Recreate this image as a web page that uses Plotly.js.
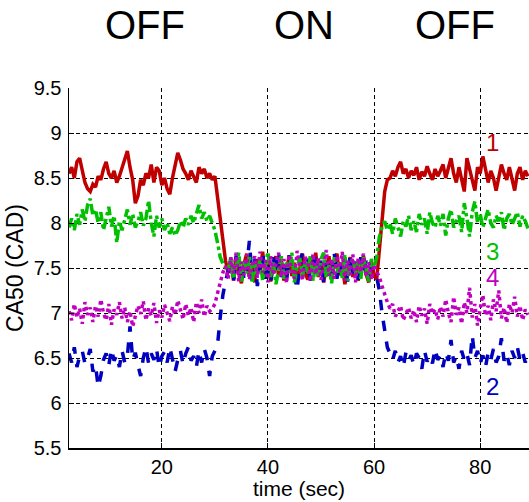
<!DOCTYPE html>
<html>
<head>
<meta charset="utf-8">
<script src="https://cdn.plot.ly/plotly-3.0.1.min.js"></script>
<style>html,body{margin:0;padding:0;background:#fff;}#chart{width:529px;height:502px;}</style>
</head>
<body>
<div id="chart"></div>
<script>
// sample times: start 2.5 s, step 0.5 s
const timeStart = 2.5;
const timeStep = 0.5;

// series 1 (red, solid) - rows of 5 s
const series1 = [
  8.55,8.62,8.50,8.68,8.72,8.58,8.45,8.38,8.35,8.43,
  8.40,8.52,8.48,8.60,8.68,8.55,8.50,8.58,8.45,8.52,
  8.62,8.70,8.80,8.62,8.48,8.22,8.30,8.48,8.42,8.55,
  8.50,8.65,8.45,8.62,8.58,8.42,8.50,8.38,8.32,8.50,
  8.62,8.78,8.70,8.60,8.55,8.48,8.58,8.52,8.45,8.62,
  8.55,8.60,8.50,8.55,8.48,8.52,8.30,8.05,7.80,7.58,
  7.45,7.58,7.36,7.62,7.44,7.33,7.55,7.66,7.40,7.52,
  7.34,7.60,7.46,7.68,7.39,7.55,7.35,7.52,7.63,7.42,
  7.58,7.36,7.47,7.64,7.41,7.56,7.33,7.52,7.66,7.45,
  7.37,7.61,7.48,7.67,7.40,7.56,7.34,7.51,7.63,7.38,
  7.57,7.66,7.42,7.53,7.32,7.47,7.62,7.40,7.56,7.36,
  7.52,7.64,7.43,7.34,7.58,7.41,7.38,7.70,8.10,8.35,
  8.48,8.50,8.58,8.52,8.62,8.68,8.55,8.60,8.50,8.58,
  8.53,8.62,8.48,8.57,8.52,8.63,8.55,8.48,8.60,8.52,
  8.58,8.65,8.50,8.60,8.72,8.55,8.45,8.62,8.50,8.35,
  8.72,8.58,8.48,8.36,8.62,8.55,8.74,8.60,8.45,8.58,
  8.50,8.36,8.52,8.65,8.55,8.48,8.62,8.50,8.36,8.55,
  8.62,8.48,8.58,8.52
];

// series 2 (blue, dashed)
const series2 = [
  6.55,6.45,6.62,6.40,6.52,6.58,6.44,6.50,6.60,6.35,
  6.42,6.18,6.30,6.48,6.55,6.42,6.60,6.47,6.53,6.40,
  6.58,6.45,6.52,6.85,6.48,6.56,6.42,6.30,6.50,6.62,
  6.44,6.55,6.48,6.60,6.40,6.52,6.57,6.45,6.62,6.50,
  6.35,6.48,6.58,6.43,6.55,6.62,6.47,6.52,6.40,6.58,
  6.45,6.60,6.50,6.30,6.52,6.58,6.65,6.95,7.20,7.35,
  7.45,7.58,7.34,7.64,7.43,7.57,7.37,7.52,7.80,7.40,
  7.60,7.30,7.50,7.66,7.38,7.56,7.33,7.62,7.45,7.68,
  7.40,7.58,7.35,7.64,7.48,7.41,7.26,7.55,7.67,7.43,
  7.60,7.36,7.52,7.65,7.40,7.58,7.34,7.63,7.47,7.39,
  7.66,7.38,7.56,7.44,7.61,7.35,7.64,7.42,7.57,7.37,
  7.62,7.45,7.58,7.36,7.54,7.42,7.40,7.25,7.00,6.78,
  6.62,6.55,6.48,6.58,6.45,6.52,6.40,6.56,6.47,6.53,
  6.42,6.55,6.50,6.38,6.58,6.46,6.52,6.44,6.60,6.48,
  6.53,6.40,6.56,6.47,6.70,6.45,6.52,6.38,6.58,6.48,
  6.55,6.42,6.75,6.50,6.58,6.44,6.53,6.40,6.56,6.48,
  6.60,6.45,6.52,6.72,6.47,6.55,6.42,6.58,6.50,6.62,
  6.48,6.56,6.45,6.53
];

// series 3 (green, dash-dot)
const series3 = [
  7.95,8.05,7.92,8.10,7.98,8.15,8.02,8.20,8.27,8.08,
  8.15,8.00,8.12,7.92,8.05,8.18,7.96,8.08,7.78,8.02,
  7.92,8.05,8.15,7.98,8.10,7.95,8.02,8.12,7.97,8.05,
  8.25,8.00,7.85,8.08,7.95,8.05,7.92,8.00,7.88,7.95,
  7.86,7.92,8.02,7.95,8.05,7.98,8.08,8.00,8.12,8.20,
  8.05,8.12,8.02,8.08,8.00,7.92,7.78,7.62,7.55,7.50,
  7.48,7.62,7.38,7.52,7.67,7.35,7.57,7.44,7.64,7.33,
  7.56,7.41,7.61,7.36,7.52,7.68,7.40,7.58,7.32,7.49,
  7.63,7.38,7.56,7.45,7.67,7.34,7.52,7.61,7.40,7.58,
  7.43,7.65,7.36,7.54,7.41,7.60,7.67,7.39,7.53,7.33,
  7.62,7.45,7.58,7.39,7.65,7.36,7.53,7.61,7.43,7.57,
  7.38,7.62,7.46,7.35,7.60,7.50,7.62,7.85,7.95,8.02,
  7.92,8.00,7.88,8.05,7.95,7.85,8.02,7.96,8.08,7.92,
  8.02,7.90,8.10,7.98,8.05,7.88,8.12,8.00,7.95,8.08,
  7.97,8.10,7.86,8.05,8.15,7.95,8.02,8.08,7.90,8.22,
  8.05,7.85,8.12,8.24,8.00,8.10,7.95,8.06,8.15,8.00,
  7.95,8.08,8.02,8.12,7.92,8.05,8.10,7.98,8.04,8.12,
  7.96,8.08,8.02,7.94
];

// series 4 (magenta, dotted)
const series4 = [
  7.02,6.92,7.10,6.95,7.05,6.88,7.12,6.98,7.06,6.90,
  7.08,6.96,7.15,7.00,6.92,7.10,6.87,7.04,6.98,7.12,
  6.94,7.06,6.90,7.02,6.85,6.96,7.08,6.99,7.13,6.92,
  7.05,6.97,7.11,6.89,7.03,6.95,7.09,7.00,6.91,7.07,
  6.98,7.14,7.02,6.93,7.10,6.97,7.06,6.90,7.12,7.00,
  7.15,6.96,7.08,7.02,7.05,7.10,7.22,7.35,7.45,7.52,
  7.38,7.62,7.44,7.67,7.35,7.57,7.42,7.65,7.37,7.54,
  7.63,7.39,7.68,7.45,7.59,7.34,7.63,7.42,7.56,7.67,
  7.40,7.60,7.33,7.65,7.47,7.38,7.69,7.52,7.36,7.62,
  7.57,7.35,7.66,7.43,7.61,7.37,7.54,7.70,7.41,7.60,
  7.38,7.64,7.46,7.68,7.36,7.58,7.42,7.65,7.34,7.61,
  7.45,7.66,7.40,7.57,7.37,7.54,7.46,7.40,7.30,7.20,
  7.12,7.05,7.10,6.96,7.02,7.08,6.92,7.00,7.06,6.94,
  7.03,6.90,7.08,6.97,7.05,6.88,7.10,6.99,7.04,6.93,
  7.07,6.96,7.15,7.00,6.90,7.18,6.98,7.06,6.88,7.12,
  7.00,7.28,6.95,7.10,6.86,7.05,7.20,6.97,7.08,6.92,
  7.15,7.02,7.25,6.94,7.06,6.89,7.10,7.00,7.18,6.96,
  7.08,6.92,7.04,6.98
];

const phaseLabels = ["OFF", "ON", "OFF"];
const seriesLabels = ["1", "2", "3", "4"];
const yTickVals = [5.5, 6, 6.5, 7, 7.5, 8, 8.5, 9, 9.5];
const xTickVals = [20, 40, 60, 80];

const colors = {"1": "#c00000", "2": "#0000c0", "3": "#00c000", "4": "#c000c0"};
const dashes = {"1": "solid", "2": "dash", "3": "dashdot", "4": "dot"};
const dataBySeries = {"1": series1, "2": series2, "3": series3, "4": series4};
const labelPos = {"1": [82.3, 8.89], "2": [82.3, 6.18], "3": [82.3, 7.68], "4": [82.3, 7.39]};

function times(arr) { return arr.map((_, i) => timeStart + i * timeStep); }

const order = ["1", "2", "3", "4"];
const traces = order.map(k => ({
  x: times(dataBySeries[k]),
  y: dataBySeries[k],
  type: "scatter",
  mode: "lines",
  line: {color: colors[k], width: 3.5, dash: dashes[k]},
  showlegend: false,
  hoverinfo: "skip"
}));

const font = "Liberation Sans, Arial, sans-serif";
const annotations = [];
const phaseX = [145, 304, 455];
phaseLabels.forEach((t, i) => {
  annotations.push({
    text: t, xref: "paper", yref: "paper",
    x: (phaseX[i] - 69) / 460, y: (448 - 25) / 360,
    xanchor: "center", yanchor: "middle", showarrow: false,
    font: {family: font, size: 40, color: "#000"}
  });
});
seriesLabels.forEach(k => {
  annotations.push({
    text: k, x: labelPos[k][0], y: labelPos[k][1], xref: "x", yref: "y",
    xanchor: "center", yanchor: "middle", showarrow: false,
    font: {family: font, size: 24, color: colors[k]}
  });
});

const layout = {
  width: 529, height: 502,
  margin: {l: 69, r: 0, t: 88, b: 54, pad: 0},
  paper_bgcolor: "#fff", plot_bgcolor: "#fff",
  font: {family: font, size: 20, color: "#000"},
  xaxis: {
    range: [2.5, 89.2], tickvals: xTickVals, ticks: "inside", ticklen: 5,
    tickcolor: "#000", showline: true, linecolor: "#000", linewidth: 1.5,
    showgrid: true, gridcolor: "#000", gridwidth: 1, griddash: "4px,3px",
    zeroline: false, tickfont: {family: font, size: 20, color: "#000"},
    title: {text: "time (sec)", font: {family: font, size: 21, color: "#000"}, standoff: 3},
    automargin: false, mirror: false
  },
  yaxis: {
    range: [5.5, 9.5], tickvals: yTickVals, ticks: "inside", ticklen: 5,
    tickcolor: "#000", showline: true, linecolor: "#000", linewidth: 1.5,
    showgrid: true, gridcolor: "#000", gridwidth: 1, griddash: "4px,3px",
    zeroline: false, tickfont: {family: font, size: 20, color: "#000"},
    title: {text: "CA50 (CAD)", font: {family: font, size: 23, color: "#000"}, standoff: 3},
    automargin: false, ticklabelstandoff: 2
  },
  annotations: annotations
};

Plotly.newPlot("chart", traces, layout, {displayModeBar: false, staticPlot: true});
</script>
</body>
</html>
